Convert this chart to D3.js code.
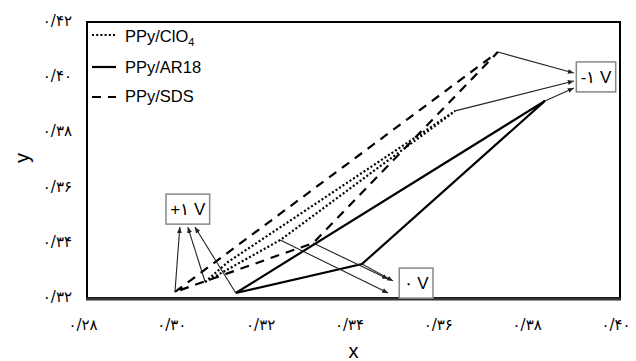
<!DOCTYPE html>
<html>
<head>
<meta charset="utf-8">
<title>PPy potential chart</title>
<style>
body { margin: 0; background: #fff; }
svg { display: block; font-family: "Liberation Sans", Arial, sans-serif; }
.frame { fill: none; stroke: #000; stroke-width: 2px; }
.frame-bottom { stroke: #333; stroke-width: 3px; }
.tick-label { font-family: "DejaVu Sans", sans-serif; font-size: 15px; fill: #000; }
.axis-title { font-size: 20px; fill: #000; }
.series { fill: none; stroke: #000; stroke-width: 2.2px; }
.series.clo4 { stroke-dasharray: 2, 2.2; }
.series.sds { stroke-dasharray: 9, 7; }
.pointer { stroke: #222; stroke-width: 1.1px; fill: none; }
.vbox rect { fill: #fff; stroke: #888; stroke-width: 1.5px; }
.vbox text { font-size: 17px; fill: #000; }
.legend text { font-size: 16.5px; fill: #000; }
</style>
</head>
<body>
<svg id="chart" width="636" height="361"></svg>
<script src="https://cdn.jsdelivr.net/npm/d3@7"></script>
<script>

var xTicks = [0.28, 0.30, 0.32, 0.34, 0.36, 0.38, 0.40];
var yTicks = [0.32, 0.34, 0.36, 0.38, 0.40, 0.42];

// each loop goes +1 V -> -1 V -> 0 V -> back
var clo4X = [0.3066, 0.3117, 0.3629, 0.3235];
var clo4Y = [0.3258, 0.3330, 0.3878, 0.3410];
var ar18X = [0.3135, 0.3831, 0.3419];
var ar18Y = [0.3218, 0.3914, 0.3323];
var sdsX  = [0.2998, 0.3725, 0.3309];
var sdsY  = [0.3222, 0.4091, 0.3399];

// which vertex is +1, 0, -1 V for each series
var clo4Idx = [0, 3, 2];
var ar18Idx = [0, 2, 1];
var sdsIdx  = [0, 2, 1];

var boxLabels = ["+۱ V", "۰ V", "-۱ V"];
var boxX = [0.3027, 0.3541, 0.3946];
var boxY = [0.3522, 0.3254, 0.4001];

// arrow heads, order: clo4, ar18, sds
var plusTipX  = [0.3027, 0.3043, 0.3009];
var plusTipY  = [0.3457, 0.3457, 0.3457];
var zeroTipX  = [0.3478, 0.3489, 0.3478];
var zeroTipY  = [0.3218, 0.3262, 0.3269];
var minusTipX = [0.3896, 0.3896, 0.3896];
var minusTipY = [0.3986, 0.3961, 0.4015];

var svg = d3.select("#chart");
var plotLeft = 87, plotRight = 620, plotTop = 22, plotBottom = 298;

var x = d3.scaleLinear().domain([0.28, 0.40]).range([plotLeft, plotRight]);
var y = d3.scaleLinear().domain([0.32, 0.42]).range([plotBottom, plotTop]);

var fa = "۰۱۲۳۴۵۶۷۸۹";
function persian(v) {
  return d3.format(".2f")(v).replace(".", "/").replace(/[0-9]/g, function (c) { return fa[+c]; });
}

svg.append("defs").append("marker")
  .attr("id", "arrow")
  .attr("markerUnits", "userSpaceOnUse")
  .attr("markerWidth", 7).attr("markerHeight", 6)
  .attr("refX", 6).attr("refY", 2.5)
  .attr("orient", "auto")
  .append("path").attr("d", "M0,0L6,2.5L0,5z").attr("fill", "#222");

// plot frame
svg.append("rect").attr("class", "frame")
  .attr("x", x(0.28)).attr("y", y(0.42))
  .attr("width", x(0.40) - x(0.28)).attr("height", y(0.32) - y(0.42));
svg.append("line").attr("class", "frame-bottom")
  .attr("x1", x(0.28) - 1).attr("x2", x(0.40) + 1)
  .attr("y1", y(0.32) + 1).attr("y2", y(0.32) + 1);

// tick labels
svg.selectAll(".xt").data(xTicks).enter().append("text")
  .attr("class", "tick-label xt")
  .attr("x", function (d) { return x(d) - 4; })
  .attr("y", 330)
  .attr("text-anchor", "middle")
  .text(persian);

svg.selectAll(".yt").data(yTicks).enter().append("text")
  .attr("class", "tick-label yt")
  .attr("x", 72)
  .attr("y", function (d) { return y(d) + 4; })
  .attr("text-anchor", "end")
  .text(persian);

svg.append("text").attr("class", "axis-title")
  .attr("x", (plotLeft + plotRight) / 2).attr("y", 358)
  .attr("text-anchor", "middle").text("x");
svg.append("text").attr("class", "axis-title")
  .attr("transform", "translate(29,158) rotate(-90)")
  .attr("text-anchor", "middle").text("y");

function pts(xs, ys) { return xs.map(function (v, i) { return [v, ys[i]]; }); }
var series = [
  { cls: "clo4", p: pts(clo4X, clo4Y), idx: clo4Idx },
  { cls: "ar18", p: pts(ar18X, ar18Y), idx: ar18Idx },
  { cls: "sds",  p: pts(sdsX, sdsY),  idx: sdsIdx }
];

var line = d3.line()
  .x(function (d) { return x(d[0]); })
  .y(function (d) { return y(d[1]); })
  .curve(d3.curveLinearClosed);

svg.selectAll(".series").data(series).enter().append("path")
  .attr("class", function (d) { return "series " + d.cls; })
  .attr("d", function (d) { return line(d.p); });

// pointers from loop vertices to voltage boxes
var tips = [
  pts(plusTipX, plusTipY),
  pts(zeroTipX, zeroTipY),
  pts(minusTipX, minusTipY)
];
var pointers = [];
series.forEach(function (s, si) {
  s.idx.forEach(function (vi, k) {
    pointers.push({ from: s.p[vi], to: tips[k][si] });
  });
});
svg.selectAll(".pointer").data(pointers).enter().append("line")
  .attr("class", "pointer")
  .attr("x1", function (d) { return x(d.from[0]); })
  .attr("y1", function (d) { return y(d.from[1]); })
  .attr("x2", function (d) { return x(d.to[0]); })
  .attr("y2", function (d) { return y(d.to[1]); })
  .attr("marker-end", "url(#arrow)");

// voltage boxes
var boxes = svg.selectAll(".vbox").data(boxLabels).enter().append("g")
  .attr("class", "vbox")
  .attr("transform", function (d, i) { return "translate(" + x(boxX[i]) + "," + y(boxY[i]) + ")"; });
boxes.append("rect");
boxes.append("text")
  .attr("text-anchor", "middle")
  .attr("y", 6)
  .text(function (d) { return d; })
  .each(function () {
    var b = this.getBBox();
    d3.select(this.parentNode).select("rect")
      .attr("x", -b.width / 2 - 4).attr("y", -15)
      .attr("width", b.width + 8).attr("height", 30);
  });

// legend
var legendRows = [
  { cls: "clo4", name: "PPy/ClO", sub: "4", y: 35, ty: 42 },
  { cls: "ar18", name: "PPy/AR18", sub: "", y: 67, ty: 73 },
  { cls: "sds",  name: "PPy/SDS",  sub: "", y: 97, ty: 102 }
];
var lg = svg.append("g").attr("class", "legend");
legendRows.forEach(function (r) {
  lg.append("line").attr("class", "series " + r.cls)
    .attr("x1", 92).attr("x2", 116).attr("y1", r.y).attr("y2", r.y);
  var t = lg.append("text").attr("x", 125).attr("y", r.ty).text(r.name);
  if (r.sub) {
    t.append("tspan").attr("dy", 4).style("font-size", "11px").text(r.sub);
  }
});

</script>
</body>
</html>
